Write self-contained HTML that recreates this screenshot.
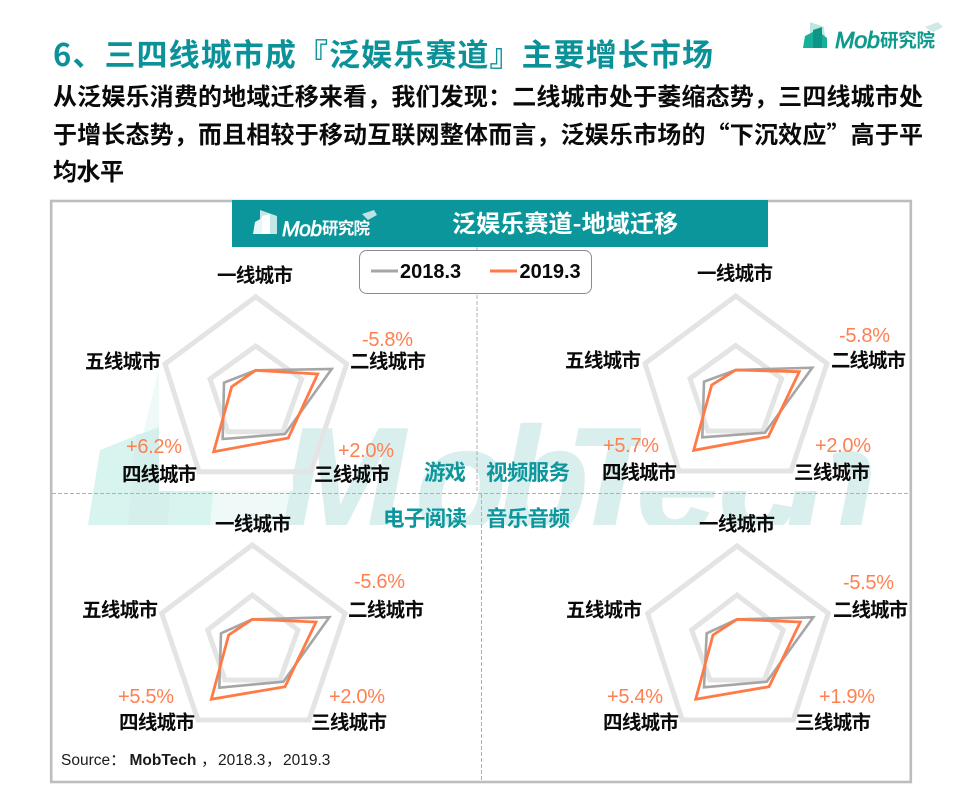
<!DOCTYPE html>
<html lang="zh-CN"><head><meta charset="utf-8"><title>泛娱乐赛道-地域迁移</title>
<style>
html,body{margin:0;padding:0;background:#fff;width:960px;height:796px;overflow:hidden}
svg{display:block}
text{font-family:"Noto Sans CJK SC","Liberation Sans",sans-serif;font-weight:700}
.l{font-size:19.5px;fill:#0a0a0a}
.p{font-family:"Liberation Sans",sans-serif;font-weight:400;font-size:20px;fill:#ff7f50}
.t{font-size:21.5px;fill:#0d979d}
.g{fill:none;stroke:#e4e4e4;stroke-width:5}
.a{fill:none;stroke:#a6a6a6;stroke-width:2.6}
.o{fill:none;stroke:#ff7a45;stroke-width:2.8}
</style></head><body>
<svg width="960" height="796" viewBox="0 0 960 796" xmlns="http://www.w3.org/2000/svg">
<defs><clipPath id="wm"><rect x="0" y="300" width="960" height="225"/></clipPath></defs>

<!-- title -->
<text x="53" y="66" font-size="31" fill="#0b9299" textLength="660" lengthAdjust="spacing">6、三四线城市成『泛娱乐赛道』主要增长市场</text>
<text x="53" y="105" font-size="24" fill="#0a0a0a" textLength="870" lengthAdjust="spacing">从泛娱乐消费的地域迁移来看，我们发现：二线城市处于萎缩态势，三四线城市处</text>
<text x="53" y="143" font-size="24" fill="#0a0a0a" textLength="870" lengthAdjust="spacing">于增长态势，而且相较于移动互联网整体而言，泛娱乐市场的“下沉效应”高于平</text>
<text x="53" y="180" font-size="24" fill="#0a0a0a" textLength="71" lengthAdjust="spacing">均水平</text>

<!-- top right logo -->
<polygon points="810,22 824,27 826,48 810,48" fill="#bfe5df"/>
<polygon points="803,48 805,36 813,32 813,48" fill="#17b09a"/>
<polygon points="813,48 813,30 822,27 822,48" fill="#0f9488"/>
<polygon points="822,48 822,34 827,38 827,48" fill="#17b09a"/>
<text x="835" y="48" font-size="23.5" fill="#0f9a8e" style="font-family:'Liberation Sans',sans-serif;font-style:italic;font-weight:400;stroke:#0f9a8e;stroke-width:.8" textLength="45">Mob</text>
<text x="880" y="47" font-size="18.5" fill="#0f9a8e" textLength="55">研究院</text>
<polygon points="925,27 938,22 943,27 933,32" fill="#cfe9e5"/>

<!-- watermark -->
<g clip-path="url(#wm)">
<polygon points="158,373 120,525 260,525 200,373" fill="#effaf8"/>
<polygon points="88,525 100,450 158,427 168,427 168,525" fill="#d8f4ef"/>
<polygon points="128,525 136,435 176,425 168,525" fill="#d5efec"/>
<polygon points="168,525 176,425 220,425 210,525" fill="#d8f4ef"/>
<polygon points="210,525 220,425 293,425 293,525" fill="#effaf8"/>
<text y="532" font-size="150" fill="#d9efed" stroke="#d9efed" stroke-width="1" x="280 415 497 565 636 718 785" style="font-family:'Liberation Sans',sans-serif;font-style:italic;font-weight:700">MobTech</text>
</g>
<rect x="159" y="350" width="134" height="141" fill="#fff"/>
<rect x="641" y="370" width="192" height="121" fill="#fff"/>

<!-- frame -->
<rect x="51.2" y="201" width="859.6" height="581" fill="none" stroke="#bdbdbd" stroke-width="2.6"/>

<!-- dashed -->
<line x1="52" y1="493.5" x2="910" y2="493.5" stroke="#b0b0b0" stroke-width="1" stroke-dasharray="4 2"/>
<line x1="477" y1="247" x2="477" y2="493" stroke="#b0b0b0" stroke-width="1" stroke-dasharray="4 2"/>
<line x1="481.5" y1="494" x2="481.5" y2="780" stroke="#b0b0b0" stroke-width="1" stroke-dasharray="4 2"/>

<!-- header -->
<rect x="232" y="200" width="536" height="47" fill="#0b969c"/>
<polygon points="260,210 277,216 277,234 260,234" fill="#c5e6e6"/>
<polygon points="253,234 255,222 262,218 262,234" fill="#e6f5f5"/>
<polygon points="262,234 262,216 270,214 270,234" fill="#fff"/>
<text x="282" y="236" font-size="21" fill="#fff" style="font-family:'Liberation Sans',sans-serif;font-style:italic;font-weight:400;stroke:#fff;stroke-width:.7" textLength="40">Mob</text>
<text x="322" y="234" font-size="16.5" fill="#fff" textLength="48">研究院</text>
<polygon points="362,214 374,210 377,215 368,220" fill="#bfe3e3"/>
<text x="452" y="232" font-size="24" fill="#fff" textLength="226" lengthAdjust="spacing">泛娱乐赛道-地域迁移</text>

<!-- legend -->
<rect x="359.5" y="250.5" width="232" height="43" rx="7" fill="#fff" stroke="#8c8c8c" stroke-width="1"/>
<line x1="371" y1="271" x2="398" y2="271" stroke="#a6a6a6" stroke-width="3"/>
<text x="400" y="278" font-size="20" fill="#0a0a0a" style="font-family:'Liberation Sans',sans-serif">2018.3</text>
<line x1="490" y1="271" x2="517" y2="271" stroke="#ff7a45" stroke-width="3"/>
<text x="519.5" y="278" font-size="20" fill="#0a0a0a" style="font-family:'Liberation Sans',sans-serif">2019.3</text>

<!-- chart 1 -->
<polygon class="g" points="255.7,296.7 346.7,364 310.7,471.7 199,471.7 165,364"/>
<polygon class="g" points="255.7,346 301.7,379 283,431.7 227.7,431.7 210,379"/>
<polygon class="a" points="255.7,370.3 331.7,369 285,434 222.7,439 224,382.7"/>
<polygon class="o" points="255.7,370.3 317.7,374 288.3,438 213.7,451.7 231.7,386.7"/>
<text class="l" x="217" y="282" textLength="76">一线城市</text>
<text class="l" x="350" y="368" textLength="76">二线城市</text>
<text class="l" x="85" y="368" textLength="76">五线城市</text>
<text class="l" x="122" y="481" textLength="75">四线城市</text>
<text class="l" x="314" y="481" textLength="76">三线城市</text>
<text class="p" x="362" y="346" textLength="51">-5.8%</text>
<text class="p" x="126" y="453" textLength="56">+6.2%</text>
<text class="p" x="338" y="457" textLength="56">+2.0%</text>

<!-- chart 2 -->
<polygon class="g" points="735.7,296 827,363.5 791,471 679,471 645,363.5"/>
<polygon class="g" points="735.7,345.5 781.7,378.5 763,431 707.7,431 690,378.5"/>
<polygon class="a" points="735.7,370 812.3,367.7 765,432.7 702.3,437.3 704,381.7"/>
<polygon class="o" points="735.7,370 799.3,371.7 768.3,436.7 693.7,450.3 711.7,385"/>
<text class="l" x="697" y="280" textLength="76">一线城市</text>
<text class="l" x="831" y="367" textLength="75">二线城市</text>
<text class="l" x="565" y="367" textLength="76">五线城市</text>
<text class="l" x="602" y="479" textLength="75">四线城市</text>
<text class="l" x="794" y="479" textLength="76">三线城市</text>
<text class="p" x="839" y="342" textLength="51">-5.8%</text>
<text class="p" x="603" y="452" textLength="56">+5.7%</text>
<text class="p" x="815" y="452" textLength="56">+2.0%</text>

<!-- chart 3 -->
<polygon class="g" points="252.3,545 345,613.3 309,720 198,720 161.7,613.3"/>
<polygon class="g" points="252.3,595 298,630 280,680 225,680 207.7,630"/>
<polygon class="a" points="252.3,619.3 329.3,617.3 283.3,681.7 219.3,687.7 221,633.3"/>
<polygon class="o" points="252.3,619.3 316,622 285,686.7 211.3,699.3 228.7,635"/>
<text class="l" x="215" y="530.5" textLength="76">一线城市</text>
<text class="l" x="348" y="616.5" textLength="76">二线城市</text>
<text class="l" x="82" y="616.5" textLength="76">五线城市</text>
<text class="l" x="119" y="729" textLength="76">四线城市</text>
<text class="l" x="311" y="729" textLength="76">三线城市</text>
<text class="p" x="354" y="588" textLength="51">-5.6%</text>
<text class="p" x="118" y="703" textLength="56">+5.5%</text>
<text class="p" x="329" y="703" textLength="56">+2.0%</text>

<!-- chart 4 -->
<polygon class="g" points="737,546 828.3,613.3 793.3,720 682.3,720 647.7,613.3"/>
<polygon class="g" points="737,595 783.3,630 764.3,680 710,680 691.7,630"/>
<polygon class="a" points="737,619.3 813.3,617.3 766.7,681.7 704,687.3 706.7,633.3"/>
<polygon class="o" points="737,619.3 800.3,622 769,686.7 695.7,699.3 713,635"/>
<text class="l" x="699" y="530.5" textLength="76">一线城市</text>
<text class="l" x="833" y="616.5" textLength="75">二线城市</text>
<text class="l" x="566" y="616.5" textLength="76">五线城市</text>
<text class="l" x="603" y="729" textLength="76">四线城市</text>
<text class="l" x="795" y="729" textLength="76">三线城市</text>
<text class="p" x="843" y="589" textLength="51">-5.5%</text>
<text class="p" x="607" y="703" textLength="56">+5.4%</text>
<text class="p" x="819" y="703" textLength="56">+1.9%</text>

<!-- center labels -->
<text class="t" x="424" y="480" textLength="42">游戏</text>
<text class="t" x="486" y="480" textLength="84">视频服务</text>
<text class="t" x="383" y="526" textLength="84">电子阅读</text>
<text class="t" x="486" y="526" textLength="84">音乐音频</text>

<!-- source -->
<text y="765" font-size="15.5" fill="#1a1a1a" style="font-weight:400">
<tspan x="61" style="font-family:'Liberation Sans','Noto Sans CJK SC',sans-serif">Source：</tspan><tspan x="129.5" style="font-family:'Liberation Sans',sans-serif;font-weight:700">MobTech</tspan><tspan x="201">，</tspan><tspan x="218" style="font-family:'Liberation Sans',sans-serif">2018.3</tspan><tspan x="266">，</tspan><tspan x="283" style="font-family:'Liberation Sans',sans-serif">2019.3</tspan>
</text>
</svg>
</body></html>
